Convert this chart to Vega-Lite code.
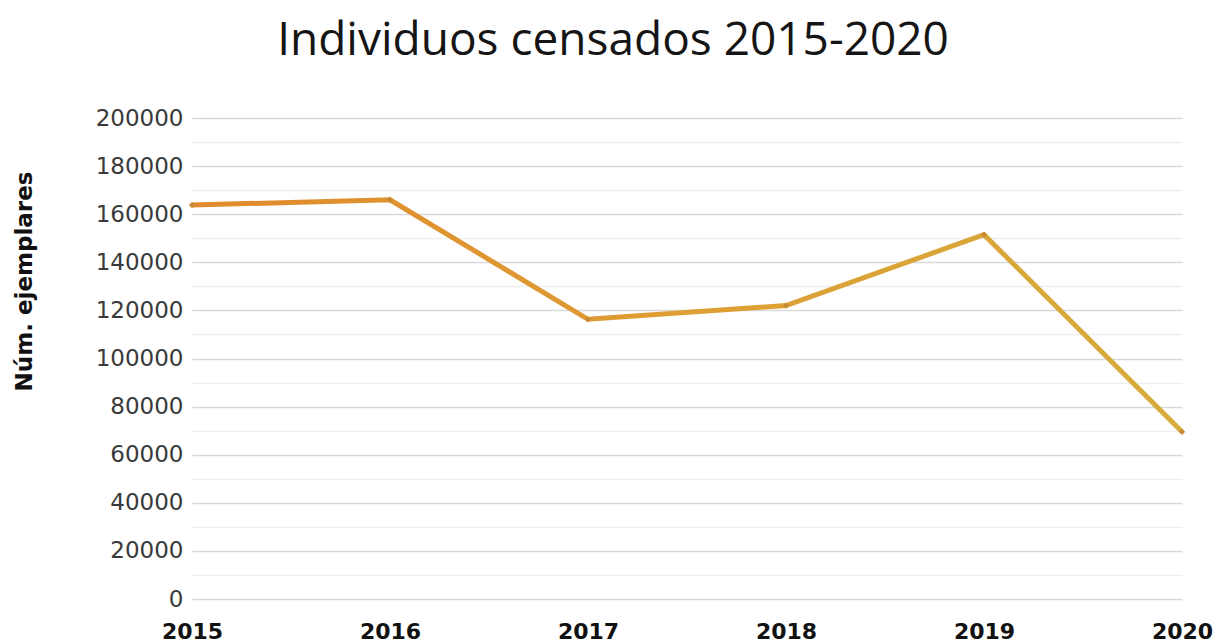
{
  "$schema": "https://vega.github.io/schema/vega-lite/v6.json",
  "autosize": "none",
  "width": 990,
  "height": 481,
  "padding": {"left": 192, "top": 118, "right": 41, "bottom": 45},
  "background": "white",
  "config": {"view": {"stroke": null}},
  "title": {
    "text": "Individuos censados 2015-2020",
    "font": "Open Sans",
    "fontSize": 46,
    "fontWeight": "normal",
    "color": "#151515",
    "anchor": "middle",
    "dx": -74,
    "baseline": "alphabetic",
    "offset": 6
  },
  "data": {
    "values": [
      {"year": "2015", "count": 163800},
      {"year": "2016", "count": 166000},
      {"year": "2017", "count": 116300},
      {"year": "2018", "count": 122000},
      {"year": "2019", "count": 151500},
      {"year": "2020", "count": 69500}
    ]
  },
  "encoding": {
    "x": {
      "field": "year",
      "type": "ordinal",
      "scale": {"type": "point", "padding": 0},
      "axis": {
        "title": null,
        "labelAngle": 0,
        "labelFont": "DejaVu Sans",
        "labelFontWeight": "bold",
        "labelFontSize": 22,
        "labelColor": "#111111",
        "labelPadding": 22,
        "ticks": false,
        "domain": false,
        "grid": false
      }
    },
    "y": {
      "field": "count",
      "type": "quantitative",
      "scale": {"domain": [0, 200000], "nice": false},
      "axis": {
        "values": [0, 10000, 20000, 30000, 40000, 50000, 60000, 70000, 80000, 90000, 100000, 110000, 120000, 130000, 140000, 150000, 160000, 170000, 180000, 190000, 200000],
        "format": "d",
        "labelExpr": "datum.value % 20000 == 0 ? datum.label : ''",
        "labelFont": "DejaVu Sans",
        "labelFontWeight": "normal",
        "labelFontSize": 23,
        "labelColor": "#3a3a3a",
        "labelPadding": 9,
        "ticks": false,
        "domain": false,
        "gridColor": {"condition": {"test": "datum.value % 20000 == 0", "value": "#d9d9d9"}, "value": "#eeeeee"},
        "gridWidth": 1.5,
        "title": "Núm. ejemplares",
        "titleFont": "DejaVu Sans",
        "titleFontWeight": "bold",
        "titleFontSize": 23,
        "titleColor": "#111111",
        "titleAngle": -90,
        "titleX": -168,
        "titleY": 163,
        "titleAlign": "center",
        "titleBaseline": "middle"
      }
    }
  },
  "layer": [
    {
      "mark": {
        "type": "line",
        "strokeWidth": 5,
        "color": {
          "gradient": "linear",
          "x1": 0, "x2": 1, "y1": 0, "y2": 0,
          "stops": [
            {"offset": 0, "color": "#E08A2C"},
            {"offset": 0.5, "color": "#DE9E34"},
            {"offset": 1, "color": "#D6AC3C"}
          ]
        }
      }
    },
    {
      "mark": {"type": "point", "shape": "diamond", "filled": true, "size": 40, "color": "#C98A35", "opacity": 1}
    }
  ]
}
